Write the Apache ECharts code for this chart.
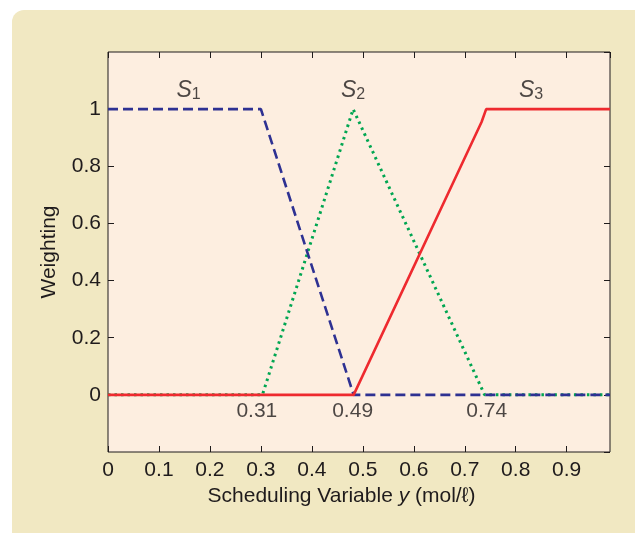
<!DOCTYPE html>
<html>
<head>
<meta charset="utf-8">
<script src="https://cdn.jsdelivr.net/npm/echarts@6/dist/echarts.min.js"></script>
<style>
html,body{margin:0;padding:0;background:#ffffff;}
#wrap{position:relative;width:635px;height:533px;overflow:hidden;}
#bg{position:absolute;left:12px;top:10px;width:640px;height:540px;background:#f1e8c2;border-top-left-radius:12px;}
#c{position:absolute;left:0;top:0;width:635px;height:533px;}
</style>
</head>
<body>
<div id="wrap"><div id="bg"></div><div id="c"></div></div>
<script>
// Data
const s1 = [[0, 1], [0.300, 1], [0.482, 0], [0.985, 0]];
const s2 = [[0, 0], [0.303, 0], [0.481, 1], [0.739, 0], [0.985, 0]];
const s3 = [[0, 0], [0.482, 0], [0.733, 0.955], [0.742, 1], [0.985, 1]];
const seriesNames = ['S1', 'S2', 'S3'];
const xRange = [0, 0.985, 0.1];   // min, max, tick step
const yRange = [-0.2, 1.2, 0.2];
// annotations: [x, y, text]
const seriesTags = [[0.158, 1.064, '{s|S}{sub|1}'], [0.481, 1.064, '{s|S}{sub|2}'], [0.830, 1.064, '{s|S}{sub|3}']];
const pointTags = [[0.292, -0.058, '0.31'], [0.480, -0.058, '0.49'], [0.743, -0.058, '0.74']];

const txt = '#1f1b1c';
const font = 'Liberation Sans, Arial, Helvetica, sans-serif';
const fs = 21;
const chart = echarts.init(document.getElementById('c'));

function tickAxis(position, r, labelOpt, extra) {
  return Object.assign({
    type: 'value', position: position, min: r[0], max: r[1], interval: r[2],
    axisLine: {show: false, onZero: false},
    axisTick: {show: true, inside: true, length: 6, lineStyle: {color: txt}},
    splitLine: {show: true, lineStyle: {color: 'rgba(0,0,0,0)'}},
    axisLabel: labelOpt
  }, extra || {});
}

const hiddenLabel = {show: true, color: 'rgba(0,0,0,0)', fontSize: 1, margin: 0};

chart.setOption({
  animation: false,
  grid: {left: 108, top: 52, right: 25, bottom: 81, containLabel: false, outerBoundsMode: 'none',
    show: true, backgroundColor: '#fdeee0', borderColor: txt, borderWidth: 1},
  xAxis: [
    tickAxis('bottom', xRange,
      {show: true, color: txt, fontSize: fs, fontFamily: font, margin: 8, showMaxLabel: false},
      {
        name: '{n|Scheduling Variable }{i|y}{n| (mol/ℓ)}',
        nameLocation: 'middle', nameGap: 34,
        nameTextStyle: {padding: [0, 35, 0, 0], rich: {
          n: {fontSize: fs, fontFamily: font, color: txt},
          i: {fontSize: fs, fontFamily: font, color: txt, fontStyle: 'italic'}
        }}
      }),
    tickAxis('top', xRange, hiddenLabel)
  ],
  yAxis: [
    tickAxis('left', yRange,
      {show: true, color: txt, fontSize: fs, fontFamily: font, margin: 7, showMinLabel: false, showMaxLabel: false},
      {
        name: 'Weighting', nameLocation: 'middle', nameGap: 48,
        nameTextStyle: {fontSize: fs, fontFamily: font, color: txt}
      }),
    tickAxis('right', yRange, hiddenLabel)
  ],
  series: [
    {
      name: seriesNames[1], type: 'line', data: s2, showSymbol: false, z: 2, xAxisIndex: 0, yAxisIndex: 0,
      lineStyle: {color: '#00a651', width: 3, type: [2.5, 4], cap: 'butt'}
    },
    {
      name: seriesNames[0], type: 'line', data: s1, showSymbol: false, z: 3, xAxisIndex: 0, yAxisIndex: 0,
      lineStyle: {color: '#2e3192', width: 2.6, type: [10, 5], cap: 'butt'}
    },
    {
      name: seriesNames[2], type: 'line', data: s3, showSymbol: false, z: 4, xAxisIndex: 0, yAxisIndex: 0,
      lineStyle: {color: '#ee2a2f', width: 2.6, type: 'solid'}
    },
    {
      type: 'scatter', symbolSize: 0, z: 5, silent: true, xAxisIndex: 0, yAxisIndex: 0,
      data: seriesTags.map(t => ({value: [t[0], t[1]], tag: t[2]})),
      label: {show: true, position: 'inside', color: txt, fontFamily: font,
        formatter: p => p.data.tag,
        rich: {
          s: {fontSize: 23, fontFamily: font, fontStyle: 'italic', color: txt, lineHeight: 23, verticalAlign: 'top'},
          sub: {fontSize: 16, fontFamily: font, color: txt, lineHeight: 16, verticalAlign: 'bottom', padding: [13, 0, 0, 0]}
        }}
    },
    {
      type: 'scatter', symbolSize: 0, z: 5, silent: true, xAxisIndex: 0, yAxisIndex: 0,
      data: pointTags.map(t => ({value: [t[0], t[1]], tag: t[2]})),
      label: {show: true, position: 'inside', color: txt, fontFamily: font, fontSize: fs,
        formatter: p => p.data.tag}
    }
  ]
});
</script>
</body>
</html>
